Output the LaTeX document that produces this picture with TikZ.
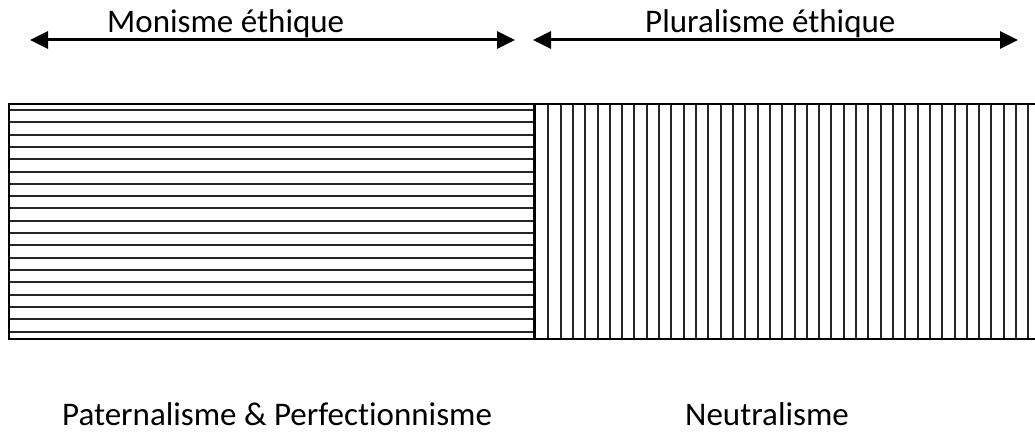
\documentclass[tikz,border=0pt]{standalone}
\usepackage{fontspec}
\setmainfont[Ligatures=NoCommon]{Carlito}
\usetikzlibrary{arrows.meta}
\tikzset{
  lbl/.style={anchor=base west, inner sep=0pt, font=\fontsize{33}{40}\selectfont},
  dblarrow/.style={line width=3pt, {Triangle[length=18pt,width=17pt]}-{Triangle[length=18pt,width=17pt]}},
  hatch/.style={line width=2pt, black!85},
  frame/.style={line width=1.8pt},
}
\begin{document}
\begin{tikzpicture}[x=1pt,y=-1pt]
\useasboundingbox (0,0) rectangle (1035,433);
% top arrows
\coordinate (mL) at (30,40);
\coordinate (mR) at (515,40);
\coordinate (pL) at (533,40);
\coordinate (pR) at (1018,40);
\draw[dblarrow] (mL) -- (mR);
\draw[dblarrow] (pL) -- (pR);
\node[lbl] (mon) at (107,33) {Monisme éthique};
\node[lbl] (plu) at (645,33) {Pluralisme éthique};
% left hatched box (horizontal lines)
\foreach \k in {0,...,18} {
  \draw[hatch] (9,{110+12.31*\k}) -- (534,{110+12.31*\k});
}
% right hatched box (vertical lines)
\foreach \k in {0,...,39} {
  \draw[hatch] ({548.3+12.31*\k},104) -- ({548.3+12.31*\k},339);
}
\draw[frame] (534,104) -- (9,104) -- (9,339) -- (534,339);
\draw[frame] (534,104) -- (1035,104);
\draw[frame] (534,339) -- (1035,339);
\draw[line width=3pt] (534,104) -- (534,339);
% bottom labels
\node[lbl] (pat) at (62,425) {Paternalisme \& Perfectionnisme};
\node[lbl] (neu) at (685,425) {Neutralisme};
\end{tikzpicture}
\end{document}
